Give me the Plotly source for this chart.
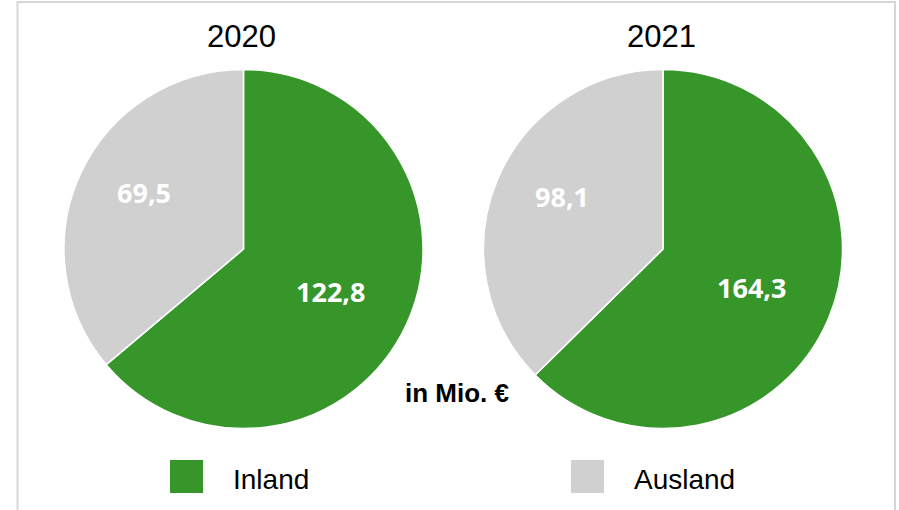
import math
import plotly.graph_objects as go

# ---- data ----
years = ["2020", "2021"]
categories = ["Inland", "Ausland"]
inland = [122.8, 164.3]
ausland = [69.5, 98.1]
colors = ["#36962a", "#d0d0d0"]
unit_label = "in Mio. €"

# ---- layout constants (page pixels) ----
W, H = 899, 510
centers_x = [243.5, 663.0]
center_y = 249.0
radius = 179.5
label_r_frac = [0.54, 0.635]
label_ang_off = [1.0, 4.5]

def px(x):
    return x / W

def py(y):
    return 1 - y / H

fig = go.Figure()
annotations = []
shapes = []

for i, yr in enumerate(years):
    vals = [inland[i], ausland[i]]
    cx = centers_x[i]
    fig.add_trace(go.Pie(
        labels=categories,
        values=vals,
        sort=False,
        direction="clockwise",
        rotation=0,
        marker=dict(colors=colors, line=dict(color="white", width=1.5)),
        textinfo="none",
        hoverinfo="label+value",
        showlegend=False,
        domain=dict(x=[px(cx - radius), px(cx + radius)],
                    y=[py(center_y + radius), py(center_y - radius)]),
    ))
    # title
    annotations.append(dict(
        text=yr, x=px(cx - 2), y=py(36.5), xref="paper", yref="paper",
        xanchor="center", yanchor="middle", showarrow=False,
        font=dict(family="Liberation Sans, Arial", size=31, color="black"),
    ))
    # slice labels
    total = sum(vals)
    cum = 0.0
    for j, v in enumerate(vals):
        mid = (cum + v / 2) / total * 360 + label_ang_off[j]
        cum += v
        rr = radius * label_r_frac[j]
        lx = cx + rr * math.sin(math.radians(mid))
        ly = center_y - rr * math.cos(math.radians(mid))
        annotations.append(dict(
            text=f"{v:.1f}".replace(".", ","), x=px(lx), y=py(ly),
            xref="paper", yref="paper", xanchor="center", yanchor="middle",
            showarrow=False,
            font=dict(family="Open Sans, Liberation Sans", size=27, color="white",
                      weight="bold"),
        ))

# unit label
annotations.append(dict(
    text=f"<b>{unit_label}</b>", x=px(457), y=py(393), xref="paper", yref="paper",
    xanchor="center", yanchor="middle", showarrow=False,
    font=dict(family="Liberation Sans, Arial", size=26, color="black"),
))

# legend (drawn manually)
legend_x = [170, 571]
for k, cat in enumerate(categories):
    x0 = legend_x[k]
    shapes.append(dict(type="rect", xref="paper", yref="paper",
                       x0=px(x0), x1=px(x0 + 33), y0=py(493), y1=py(460),
                       fillcolor=colors[k], line=dict(width=0)))
    annotations.append(dict(
        text=cat, x=px(x0 + 61), y=py(479), xref="paper", yref="paper",
        xanchor="left", yanchor="middle", showarrow=False,
        font=dict(family="Liberation Sans, Arial", size=28, color="black"),
    ))

# frame
shapes.append(dict(type="rect", xref="paper", yref="paper",
                   x0=px(17.5), x1=px(895), y0=py(540), y1=py(2),
                   line=dict(color="#d6d6d6", width=2), fillcolor="rgba(0,0,0,0)"))

fig.update_layout(
    width=W, height=H, autosize=False,
    margin=dict(l=0, r=0, t=0, b=0),
    paper_bgcolor="white", plot_bgcolor="white",
    annotations=annotations, shapes=shapes,
)

fig.write_html(
    "out.html",
    config={"displayModeBar": False},
    post_script="document.body.style.margin='0';document.body.style.overflow='hidden';",
)
